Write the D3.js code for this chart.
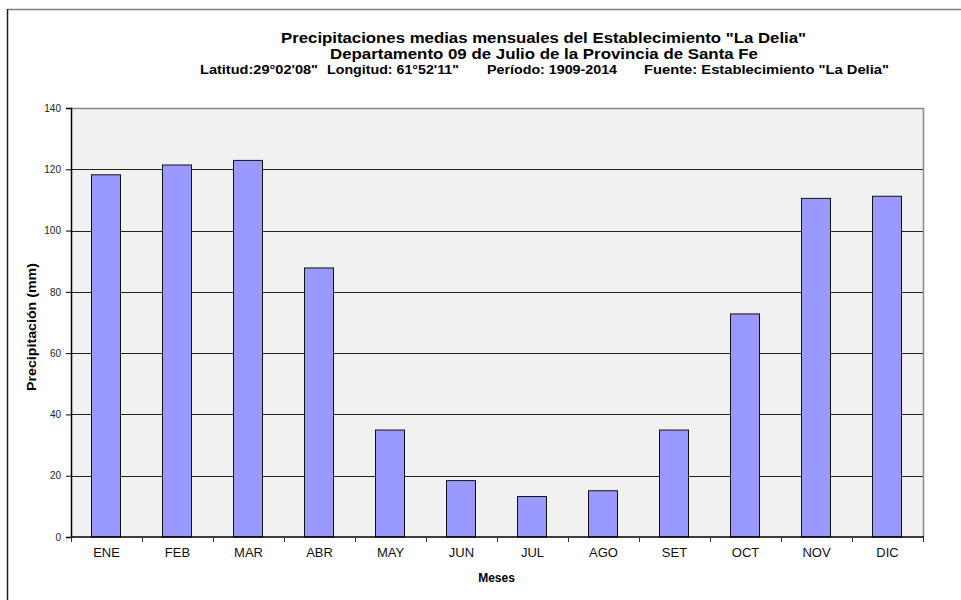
<!DOCTYPE html>
<html>
<head>
<meta charset="utf-8">
<script src="https://cdn.jsdelivr.net/npm/d3@7"></script>
<style>
  html, body { margin: 0; padding: 0; background: #fff; }
  svg { display: block; font-family: "Liberation Sans", Arial, sans-serif; }
</style>
</head>
<body>
<svg id="chart" width="961" height="600"></svg>
<script>
// Mean monthly precipitation (mm), 1909-2014
const months = ["ENE", "FEB", "MAR", "ABR", "MAY", "JUN", "JUL", "AGO", "SET", "OCT", "NOV", "DIC"];
const precipitation = [118.2, 121.4, 122.9, 87.8, 34.9, 18.4, 13.2, 15.1, 34.9, 72.8, 110.5, 111.2];
const yTicks = [0, 20, 40, 60, 80, 100, 120, 140];

const titleLines = [
  'Precipitaciones medias mensuales del Establecimiento "La Delia"',
  'Departamento 09 de Julio de la Provincia de Santa Fe'
];
const infoItems = [
  'Latitud:29°02\'08"',
  'Longitud: 61°52\'11"',
  'Período: 1909-2014',
  'Fuente: Establecimiento "La Delia"'
];
const yTitle = "Precipitación (mm)";
const xTitle = "Meses";

const svg = d3.select("#chart");
const W = 961, H = 600;
const plot = { left: 71, right: 923, top: 108, bottom: 537 };

// outer frame (top and left edges)
svg.append("line").attr("x1", 7.5).attr("y1", 9.5).attr("x2", W).attr("y2", 9.5)
  .attr("stroke", "#808080").attr("stroke-width", 1.5);
svg.append("line").attr("x1", 7.5).attr("y1", 9).attr("x2", 7.5).attr("y2", H)
  .attr("stroke", "#222").attr("stroke-width", 1.5);

const x = d3.scaleBand().domain(months).range([plot.left, plot.right]).paddingInner(0.59).paddingOuter(0.295);
const xCat = d3.scaleBand().domain(months).range([plot.left, plot.right]);
const y = d3.scaleLinear().domain([0, 140]).range([plot.bottom, plot.top]);

// plot background
svg.append("rect")
  .attr("x", plot.left).attr("y", plot.top)
  .attr("width", plot.right - plot.left).attr("height", plot.bottom - plot.top)
  .attr("fill", "#f1f1f1");

// horizontal gridlines
svg.append("g").selectAll("line").data(yTicks.filter(d => d > 0 && d < 140)).join("line")
  .attr("x1", plot.left).attr("x2", plot.right)
  .attr("y1", d => Math.round(y(d)) + 0.5).attr("y2", d => Math.round(y(d)) + 0.5)
  .attr("stroke", "#222").attr("stroke-width", 1);

// top and right frame of the plot area
svg.append("path")
  .attr("d", `M${plot.left},${plot.top + 0.5}H${plot.right + 0.5}V${plot.bottom}`)
  .attr("fill", "none").attr("stroke", "#8a8a8a").attr("stroke-width", 1.5);

// bars
svg.append("g").selectAll("rect").data(months).join("rect")
  .attr("x", (d) => Math.round(x(d)) - 0.5)
  .attr("y", (d, i) => y(precipitation[i]))
  .attr("width", Math.round(x.bandwidth()))
  .attr("height", (d, i) => y(0) - y(precipitation[i]))
  .attr("fill", "#9999ff")
  .attr("stroke", "#111").attr("stroke-width", 1);

// y axis
const yAxis = svg.append("g")
  .attr("transform", `translate(${plot.left},0)`)
  .call(d3.axisLeft(y).tickValues(yTicks).tickSize(5).tickPadding(5));
yAxis.select(".domain").attr("stroke", "#000").attr("stroke-width", 1.5);
yAxis.selectAll(".tick line").attr("stroke", "#000");
yAxis.selectAll(".tick text").attr("font-size", 10).attr("fill", "#222")
  .attr("font-family", "Liberation Sans, Arial, sans-serif");

// x axis: ticks at category boundaries
const xAxisG = svg.append("g").attr("transform", `translate(0,${plot.bottom})`);
xAxisG.append("line").attr("x1", plot.left).attr("x2", plot.right + 1)
  .attr("y1", 0).attr("y2", 0).attr("stroke", "#000").attr("stroke-width", 1.5);
const bounds = months.map(m => xCat(m)).concat([plot.right]);
xAxisG.selectAll("line.b").data(bounds).join("line").attr("class", "b")
  .attr("x1", d => Math.round(d) + 0.5).attr("x2", d => Math.round(d) + 0.5)
  .attr("y1", 0).attr("y2", 5).attr("stroke", "#333");
xAxisG.selectAll("text").data(months).join("text")
  .attr("x", d => xCat(d) + xCat.bandwidth() / 2)
  .attr("y", 20)
  .attr("text-anchor", "middle")
  .attr("font-size", 13).attr("fill", "#111")
  .text(d => d);

// axis titles
svg.append("text")
  .attr("transform", `translate(36,327) rotate(-90)`)
  .attr("text-anchor", "middle")
  .attr("font-size", 13).attr("font-weight", "bold")
  .attr("textLength", 128).attr("lengthAdjust", "spacingAndGlyphs")
  .text(yTitle);
svg.append("text")
  .attr("x", 496.5).attr("y", 582)
  .attr("text-anchor", "middle")
  .attr("font-size", 12).attr("font-weight", "bold")
  .text(xTitle);

// titles
svg.append("text").attr("x", 281).attr("y", 42.5)
  .attr("font-size", 14.2).attr("font-weight", "bold")
  .attr("textLength", 525).attr("lengthAdjust", "spacingAndGlyphs")
  .text(titleLines[0]);
svg.append("text").attr("x", 330).attr("y", 58.5)
  .attr("font-size", 14.2).attr("font-weight", "bold")
  .attr("textLength", 428).attr("lengthAdjust", "spacingAndGlyphs")
  .text(titleLines[1]);
const infoX = [200, 327, 487, 644];
const infoW = [118, 132, 130, 245];
svg.append("g").selectAll("text").data(infoItems).join("text")
  .attr("x", (d, i) => infoX[i]).attr("y", 74)
  .attr("font-size", 12.8).attr("font-weight", "bold")
  .attr("textLength", (d, i) => infoW[i]).attr("lengthAdjust", "spacingAndGlyphs")
  .text(d => d);
</script>
</body>
</html>
